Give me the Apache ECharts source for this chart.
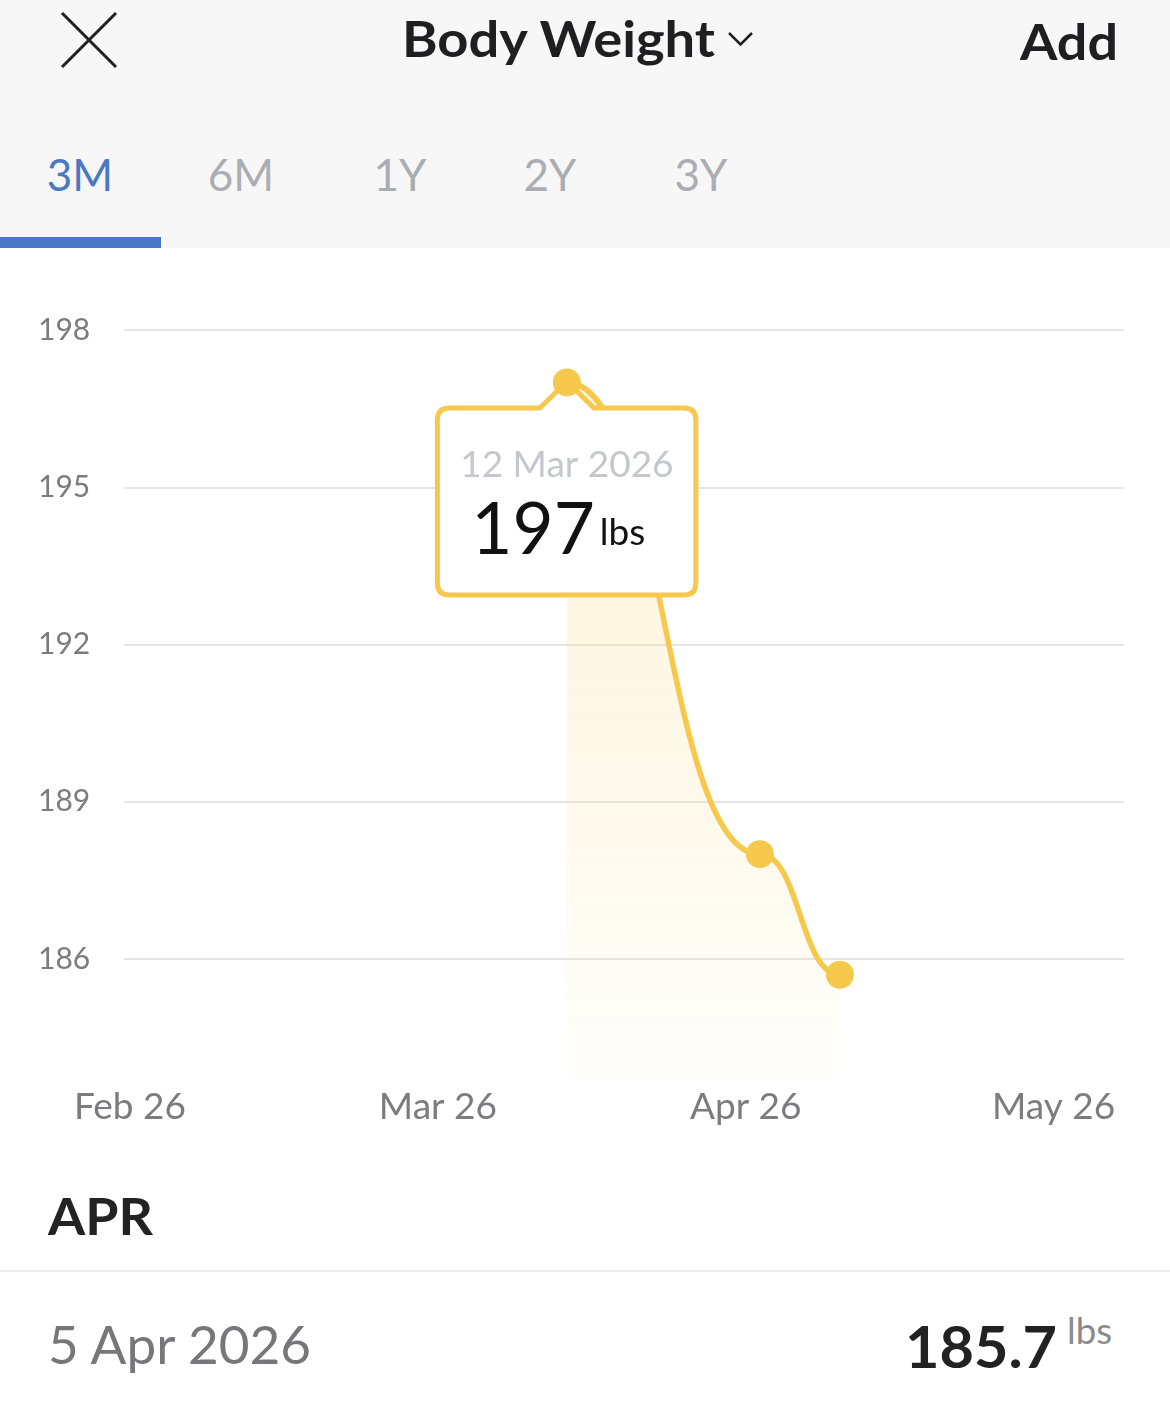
<!DOCTYPE html>
<html>
<head>
<meta charset="utf-8">
<script src="https://cdn.jsdelivr.net/npm/echarts@6/dist/echarts.min.js"></script>
<style>
html,body{margin:0;padding:0;background:#ffffff;}
#page{position:relative;width:1170px;height:1422px;overflow:hidden;font-family:Lato,'Noto Sans',sans-serif;}
#ui{position:absolute;left:0;top:0;}
#chart{position:absolute;left:0;top:0;width:1170px;height:1422px;}
</style>
</head>
<body>
<div id="page">
<svg id="ui" width="1170" height="1422" xmlns="http://www.w3.org/2000/svg" font-family="Lato, 'Noto Sans', sans-serif">
  <rect x="0" y="0" width="1170" height="248" fill="#F7F7F7"/>
  <path d="M62 13 L116 67 M116 13 L62 67" stroke="#1f1f21" stroke-width="3" fill="none"/>
  <text x="402" y="57" font-size="49" font-weight="700" fill="#1f1f21" textLength="313" lengthAdjust="spacingAndGlyphs">Body Weight</text>
  <path d="M729 33 L740.5 44.5 L752 33" stroke="#1f1f21" stroke-width="2.5" fill="none"/>
  <text x="1020" y="60" font-size="50" font-weight="700" fill="#1f1f21" textLength="98" lengthAdjust="spacingAndGlyphs">Add</text>
  <text x="80" y="191" text-anchor="middle" font-size="44" fill="#4A78C6">3M</text>
  <text x="241" y="191" text-anchor="middle" font-size="44" fill="#ABADB3">6M</text>
  <text x="400" y="191" text-anchor="middle" font-size="44" fill="#ABADB3">1Y</text>
  <text x="550" y="191" text-anchor="middle" font-size="44" fill="#ABADB3">2Y</text>
  <text x="701" y="191" text-anchor="middle" font-size="44" fill="#ABADB3">3Y</text>
  <rect x="0" y="237" width="161" height="11" fill="#4A78C6"/>
  <text x="48" y="1235" font-size="51" font-weight="700" fill="#232325" textLength="105" lengthAdjust="spacingAndGlyphs">APR</text>
  <rect x="0" y="1270" width="1170" height="2" fill="#ECECEC"/>
  <text x="48" y="1364" font-size="52" fill="#77777B" textLength="263" lengthAdjust="spacingAndGlyphs">5 Apr 2026</text>
  <text x="905" y="1368" font-size="58" font-weight="700" fill="#222224" textLength="152" lengthAdjust="spacingAndGlyphs">185.7</text>
  <text x="1067" y="1344" font-size="37" fill="#8A8A8E" textLength="45" lengthAdjust="spacingAndGlyphs">lbs</text>
</svg>
<div id="chart"></div>
</div>
<script>
// ---- data ----
const xTickValues = [0, 1, 2, 3];                 // month slots (0 = Feb 2026)
const xTickLabels = ['Feb 26', 'Mar 26', 'Apr 26', 'May 26'];
const yTickValues = [186, 189, 192, 195, 198];
const weightMonth = [1.419, 2.046, 2.306];        // x position of each entry, in month slots
const weightLbs = [197, 188, 185.7];              // body weight, lbs
const tipIndex = 0;
const tipDate = '12 Mar 2026';
const tipUnit = 'lbs';
const areaFloor = 183.7;                          // bottom of the shaded area (lbs)

const YELLOW = '#F6C94C';
const FONT = 'Lato, "Noto Sans", sans-serif';

function renderTrend(params, api) {
  if (params.dataIndex !== 0) return null;
  const pts = weightMonth.map((m, i) => api.coord([m, weightLbs[i]]));
  const floorY = api.coord([weightMonth[0], areaFloor])[1];
  let d = 'M' + pts[0][0] + ' ' + pts[0][1];
  for (let i = 1; i < pts.length; i++) {
    const x0 = pts[i - 1][0], y0 = pts[i - 1][1], x1 = pts[i][0], y1 = pts[i][1];
    const cx = (x0 + x1) / 2;
    d += ' C' + cx + ' ' + y0 + ' ' + cx + ' ' + y1 + ' ' + x1 + ' ' + y1;
  }
  const last = pts[pts.length - 1];
  const area = d + ' L' + last[0] + ' ' + floorY + ' L' + pts[0][0] + ' ' + floorY + ' Z';
  const topY = Math.min.apply(null, pts.map(p => p[1]));
  return {
    type: 'group',
    children: [
      {
        type: 'path',
        shape: { pathData: area },
        style: {
          fill: {
            type: 'linear', x: 0, y: topY, x2: 0, y2: floorY, global: true,
            colorStops: [
              { offset: 0, color: 'rgba(246,201,76,0.20)' },
              { offset: 0.5, color: 'rgba(246,201,76,0.13)' },
              { offset: 1, color: 'rgba(246,201,76,0.02)' }
            ]
          },
          stroke: 'none'
        }
      },
      {
        type: 'path',
        shape: { pathData: d },
        style: { fill: 'none', stroke: YELLOW, lineWidth: 5.5, lineJoin: 'round', lineCap: 'round' }
      }
    ]
  };
}

function renderTip(params, api) {
  const p = api.coord([api.value(0), api.value(1)]);
  const ax = p[0], ay = p[1];
  const L = ax - 129.5, R = ax + 129, T = ay + 25.5, B = ay + 212.5, r = 12, w = 27;
  const d = 'M' + (L + r) + ' ' + T + ' L' + (ax - w) + ' ' + T + ' L' + ax + ' ' + (ay - 1) +
    ' L' + (ax + w) + ' ' + T + ' L' + (R - r) + ' ' + T +
    ' Q' + R + ' ' + T + ' ' + R + ' ' + (T + r) + ' L' + R + ' ' + (B - r) +
    ' Q' + R + ' ' + B + ' ' + (R - r) + ' ' + B + ' L' + (L + r) + ' ' + B +
    ' Q' + L + ' ' + B + ' ' + L + ' ' + (B - r) + ' L' + L + ' ' + (T + r) +
    ' Q' + L + ' ' + T + ' ' + (L + r) + ' ' + T + ' Z';
  return {
    type: 'group',
    children: [
      { type: 'path', shape: { pathData: d }, style: { fill: '#ffffff', stroke: YELLOW, lineWidth: 5, lineJoin: 'round' } },
      { type: 'text', x: ax, y: ay + 83, style: { text: tipDate, fill: '#C5C7CC', fontSize: 37, fontFamily: FONT, align: 'center', verticalAlign: 'middle' } },
      { type: 'text', x: ax + 28, y: ay + 149, style: { text: String(api.value(1)), fill: '#111111', fontSize: 71, fontFamily: FONT, align: 'right', verticalAlign: 'middle' } },
      { type: 'text', x: ax + 33, y: ay + 151, style: { text: tipUnit, fill: '#111111', fontSize: 37, fontFamily: FONT, align: 'left', verticalAlign: 'middle' } }
    ]
  };
}

const points = weightMonth.map((m, i) => [m, weightLbs[i]]);

const chart = echarts.init(document.getElementById('chart'), null, { renderer: 'canvas' });
chart.setOption({
  animation: false,
  backgroundColor: 'transparent',
  grid: { left: 124, right: 46, top: 330, bottom: 305.7, containLabel: false, outerBoundsMode: 'none' },
  xAxis: {
    type: 'value',
    min: -6 / 307.87,
    max: 994 / 307.87,
    axisLine: { show: false },
    axisTick: { show: false },
    splitLine: { show: false },
    axisLabel: {
      customValues: xTickValues,
      formatter: v => xTickLabels[xTickValues.indexOf(v)] || '',
      margin: -9,
      verticalAlign: 'middle',
      fontSize: 37,
      fontFamily: FONT,
      color: '#7B7B80'
    }
  },
  yAxis: {
    type: 'value',
    min: 183,
    max: 198,
    interval: 3,
    axisLine: { show: false },
    axisTick: { show: false },
    splitLine: { show: true, showMinLine: false, lineStyle: { color: '#DCDCDC', width: 1.5 } },
    axisLabel: {
      customValues: yTickValues,
      align: 'left',
      margin: 86,
      fontSize: 30,
      fontFamily: FONT,
      color: '#7B7B80'
    }
  },
  series: [
    { type: 'custom', name: 'trend', renderItem: renderTrend, data: points, z: 2, silent: true },
    { type: 'custom', name: 'tip', renderItem: renderTip, data: [points[tipIndex]], z: 3, silent: true },
    { type: 'scatter', name: 'weight', data: points, symbolSize: 28, itemStyle: { color: YELLOW, opacity: 1 }, z: 5, silent: true }
  ]
});
</script>
</body>
</html>
